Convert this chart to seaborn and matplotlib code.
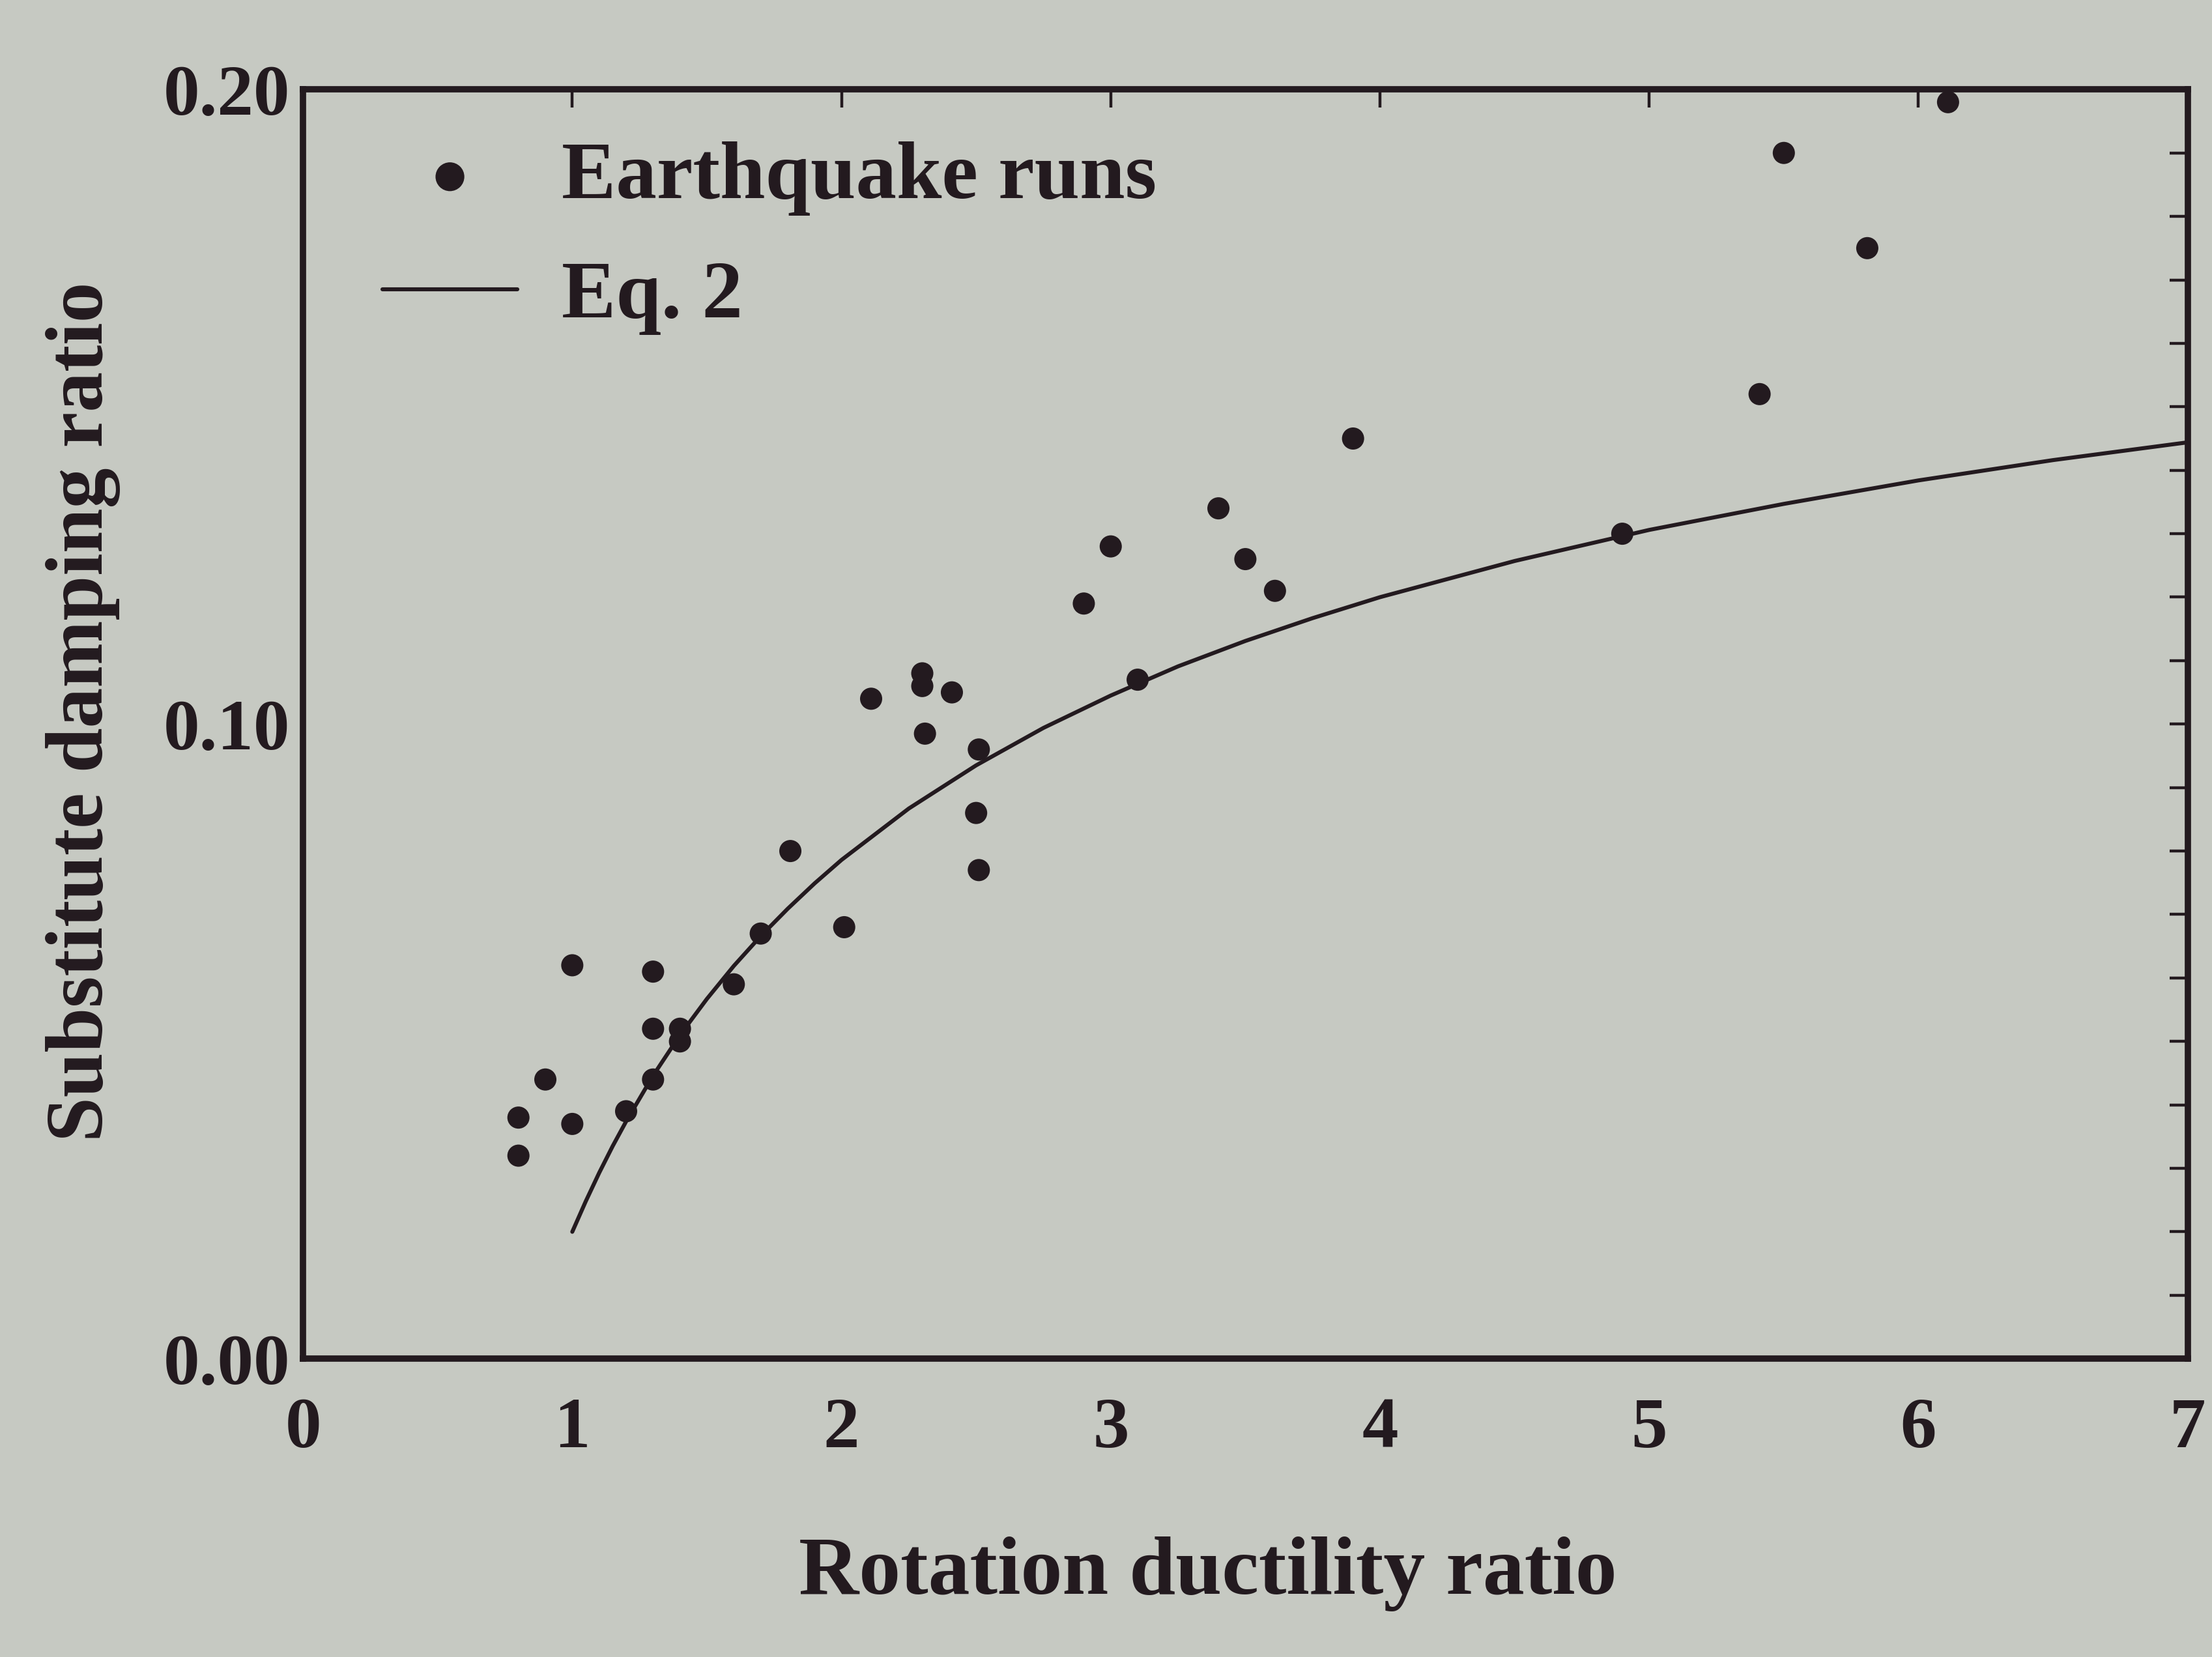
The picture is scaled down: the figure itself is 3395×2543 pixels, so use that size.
import numpy as np
import pandas as pd
import matplotlib
matplotlib.use("Agg")
import matplotlib.pyplot as plt
import seaborn as sns
from matplotlib.ticker import MultipleLocator, FixedLocator

# ---- data ----
ductility = [0.80, 0.80, 0.90, 1.00, 1.00, 1.20, 1.30, 1.30, 1.30, 1.40, 1.40,
             1.60, 1.70, 1.81, 2.01, 2.11, 2.31, 2.30, 2.30, 2.41, 2.51, 2.50,
             2.51, 2.90, 3.00, 3.10, 3.40, 3.50, 3.61, 3.90, 4.90, 5.41, 5.50,
             5.81, 6.11]
damping = [0.032, 0.038, 0.044, 0.037, 0.062, 0.039, 0.044, 0.061, 0.052, 0.052, 0.050,
           0.059, 0.067, 0.080, 0.068, 0.104, 0.0985, 0.108, 0.106, 0.105, 0.096, 0.086,
           0.077, 0.119, 0.128, 0.107, 0.134, 0.126, 0.121, 0.145, 0.130, 0.152, 0.190,
           0.175, 0.198]

eq2_ductility = [1.00, 1.05, 1.10, 1.15, 1.20, 1.30, 1.40, 1.50, 1.60, 1.70, 1.80,
                 1.90, 2.00, 2.25, 2.50, 2.75, 3.00, 3.25, 3.50, 3.75, 4.00, 4.50,
                 5.00, 5.50, 6.00, 6.50, 7.00]
eq2_damping = [0.0200, 0.0248, 0.0293, 0.0335, 0.0374, 0.0446, 0.0510, 0.0567, 0.0619,
               0.0666, 0.0709, 0.0749, 0.0786, 0.0867, 0.0935, 0.0994, 0.1045, 0.1091,
               0.1131, 0.1167, 0.1200, 0.1257, 0.1306, 0.1347, 0.1384, 0.1416, 0.1444]

x_ticks = [0, 1, 2, 3, 4, 5, 6, 7]
y_ticks = [0.00, 0.10, 0.20]
y_tick_labels = ["0.00", "0.10", "0.20"]

series_points = "Earthquake runs"
series_line = "Eq. 2"
x_label = "Rotation ductility ratio"
y_label = "Substitute damping ratio"

# ---- style ----
paper = "#c6c9c2"
ink = "#231a1f"

sns.set_theme(style="white")
plt.rcParams['font.family'] = ['Liberation Serif', 'DejaVu Serif']
plt.rcParams['font.weight'] = 'bold'

fig = plt.figure(figsize=(33.95, 25.43), dpi=100)
fig.patch.set_facecolor(paper)
ax = fig.add_axes([0.137, 0.180, 0.852, 0.766])
ax.set_facecolor(paper)

pts = pd.DataFrame({"x": ductility, "y": damping})
eq = pd.DataFrame({"x": eq2_ductility, "y": eq2_damping})

sns.scatterplot(data=pts, x="x", y="y", ax=ax, color=ink, s=600,
                edgecolor="none", linewidth=0, label=series_points,
                clip_on=False, zorder=4)
sns.lineplot(data=eq, x="x", y="y", ax=ax, color=ink, linewidth=4.4,
             sort=False, estimator=None, label=series_line, zorder=3)
for ln in ax.get_lines():
    ln.set_solid_joinstyle("round")
    ln.set_solid_capstyle("round")

ax.set_xlim(0, 7)
ax.set_ylim(0, 0.2)
ax.xaxis.set_major_locator(FixedLocator(x_ticks))
ax.set_xticklabels([str(t) for t in x_ticks])
ax.yaxis.set_major_locator(FixedLocator(y_ticks))
ax.set_yticklabels(y_tick_labels)
ax.yaxis.set_minor_locator(MultipleLocator(0.01))

for sp in ax.spines.values():
    sp.set_visible(True)
    sp.set_color(ink)
    sp.set_linewidth(7)

ax.tick_params(axis="both", which="both", direction="in", top=True, right=True,
               length=20, width=3.2, color=ink)
ax.tick_params(axis="x", which="major", labelsize=80, pad=42, labelcolor=ink)
ax.tick_params(axis="y", which="major", labelsize=80, pad=14, labelcolor=ink)
for lab in ax.get_xticklabels() + ax.get_yticklabels():
    lab.set_fontweight("bold")

ax.set_xlabel(x_label, fontsize=92, fontweight="bold", color=ink)
ax.set_ylabel(y_label, fontsize=89, fontweight="bold", color=ink)
ax.xaxis.set_label_coords(0.48, -0.14)
ax.yaxis.set_label_coords(-0.097, 0.51)

handles, labels = ax.get_legend_handles_labels()
order = [labels.index(series_points), labels.index(series_line)]
leg = ax.legend([handles[i] for i in order], [labels[i] for i in order],
                loc="upper left", bbox_to_anchor=(0.025, 0.985), frameon=False,
                prop={"family": "Liberation Serif", "weight": "bold", "size": 90},
                handlelength=1.65, handletextpad=0.55, labelspacing=0.55,
                borderaxespad=0, markerscale=1.3)
for t in leg.get_texts():
    t.set_color(ink)

fig.savefig("out.png", dpi=100, facecolor=paper)
